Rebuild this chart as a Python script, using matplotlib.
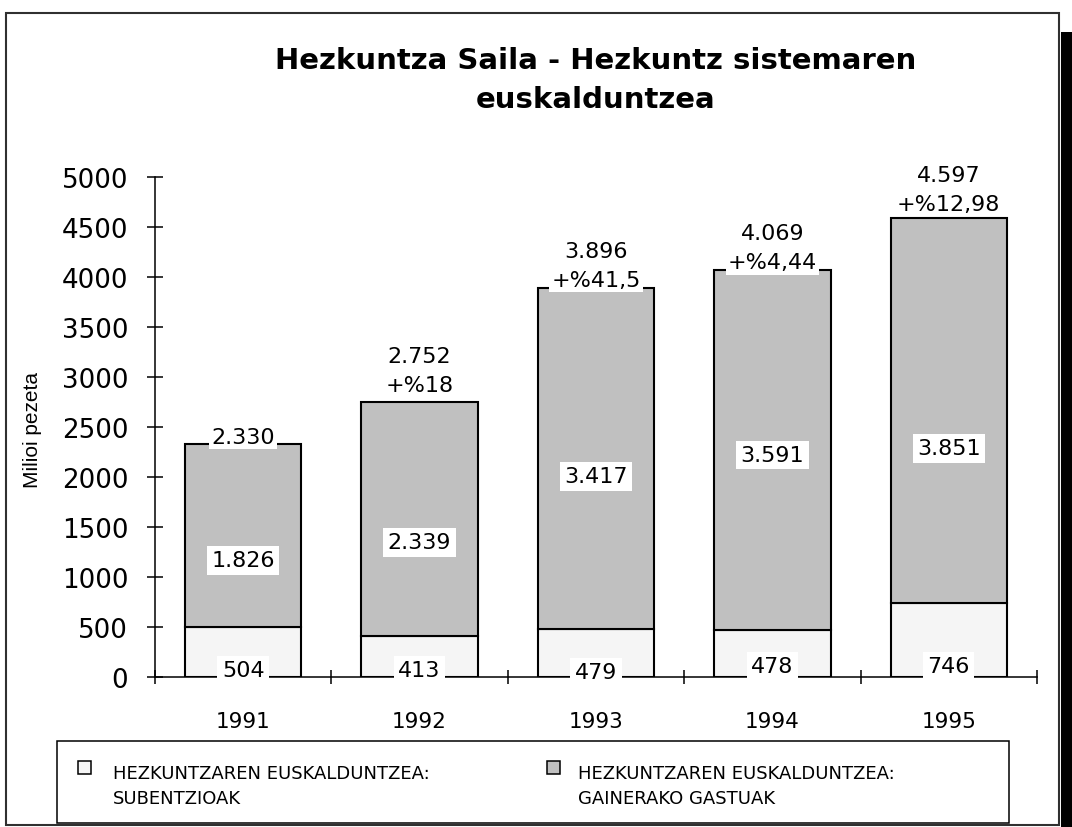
import numpy as np
import matplotlib
matplotlib.use('Agg')
import matplotlib.pyplot as plt
import matplotlib.transforms as mtransforms
from matplotlib.patches import Rectangle
from matplotlib.font_manager import FontProperties

# ---------------- data ----------------
years = ['1991', '1992', '1993', '1994', '1995']
subentzioak = [504, 413, 479, 478, 746]
gainerako = [1826, 2339, 3417, 3591, 3851]
hazkundea = ['', '+%18', '+%41,5', '+%4,44', '+%12,98']
yticks = [0, 500, 1000, 1500, 2000, 2500, 3000, 3500, 4000, 4500, 5000]
series_names = ['HEZKUNTZAREN EUSKALDUNTZEA:\nSUBENTZIOAK',
                'HEZKUNTZAREN EUSKALDUNTZEA:\nGAINERAKO GASTUAK']
title = 'Hezkuntza Saila - Hezkuntz sistemaren\neuskalduntzea'
ylabel = 'Milioi pezeta'

# ---------------- layout / style ----------------
W, H = 1072, 828
light = '#f5f5f5'
gray = '#c0c0c0'
mid_label_y = [1188, 1368, 2028, 2243, 2308]   # label positions (data units)
base_label_y = [13, 13, -7, 53, 53]
top_label_off = [1.5, 11, 1.5, 2, 8]           # pixels above bar top

def fmt(v):
    return f'{v:,}'.replace(',', '.')

fig = plt.figure(figsize=(W / 100, H / 100), dpi=100)
renderer = fig.canvas.get_renderer()

def fx(x):
    return x / W

def fy(y):
    return 1 - y / H

def asc(size, weight='normal', family='DejaVu Sans'):
    fp = FontProperties(family=family, size=size, weight=weight)
    _, h, d = renderer.get_text_width_height_descent('lp', fp, ismath=False)
    return h - d

# outer frame + shadow
fig.add_artist(Rectangle((fx(1061), 0), 1 - fx(1061), fy(33), transform=fig.transFigure,
                         facecolor='black', edgecolor='none', zorder=-2))
fig.add_artist(Rectangle((fx(6), fy(826)), (1059 - 6) / W, (826 - 14) / H,
                         transform=fig.transFigure, facecolor='white',
                         edgecolor='#303030', lw=1.5, zorder=-1))

# ---------------- axes ----------------
ax = fig.add_axes([fx(155), fy(678.3), (1037 - 155) / W, (678.3 - 178.3) / H])
ax.set_facecolor('none')
x = np.arange(len(years)) + 0.5
bw = 0.66
ax.bar(x, subentzioak, width=bw, color=light, edgecolor='black', linewidth=1.5,
       label=series_names[0], zorder=2)
ax.bar(x, gainerako, bottom=subentzioak, width=bw, color=gray, edgecolor='black',
       linewidth=1.5, label=series_names[1], zorder=2)
ax.set_xlim(0, len(years))
ax.set_ylim(0, 5000)

for s in ['top', 'right']:
    ax.spines[s].set_visible(False)
for s in ['left', 'bottom']:
    ax.spines[s].set_linewidth(1.1)
    ax.spines[s].set_zorder(2.5)

ax.set_yticks(yticks)
ax.set_yticklabels([str(t) for t in yticks])
ax.tick_params(axis='y', direction='inout', length=12, width=1.1, pad=13.3,
               labelsize=18.8)
ax.set_xticks(range(len(years) + 1))
ax.set_xticklabels([''] * (len(years) + 1))
ax.tick_params(axis='x', which='major', direction='inout', length=10, width=1.1)
ax.set_xticks(x, minor=True)
ax.set_xticklabels(years, minor=True)
ax.tick_params(axis='x', which='minor', length=0, pad=24, labelsize=15.5)

# ---------------- value labels ----------------
lab_size = 16
ls_lab = 25 / asc(lab_size)
for i in range(len(years)):
    # bottom segment
    ax.text(x[i], base_label_y[i], fmt(subentzioak[i]), ha='center', va='baseline',
            fontsize=lab_size, zorder=5,
            bbox=dict(boxstyle='square,pad=0.2', fc='white', ec='none'))
    # upper segment
    ax.text(x[i], mid_label_y[i], fmt(gainerako[i]), ha='center', va='center_baseline',
            fontsize=lab_size, zorder=5,
            bbox=dict(boxstyle='square,pad=0.2', fc='white', ec='none'))
    # total (+ growth); baseline of last line just above the bar
    total = subentzioak[i] + gainerako[i]
    txt = fmt(total) + ('\n' + hazkundea[i] if hazkundea[i] else '')
    tr = mtransforms.offset_copy(ax.transData, fig=fig, x=0,
                                 y=top_label_off[i], units='dots')
    ax.text(x[i], total, txt, ha='center', va='baseline', fontsize=lab_size,
            linespacing=ls_lab, multialignment='center', transform=tr, zorder=5,
            bbox=dict(boxstyle='square,pad=0.1', fc='white', ec='none'))

# ---------------- texts ----------------
# baseline of the last title line
fig.text(fx(596), fy(108), title, ha='center', va='baseline', fontsize=21,
         weight='bold', multialignment='center',
         linespacing=33 / asc(21, 'bold'))
fig.text(fx(32), fy(430), ylabel, rotation=90, ha='center', va='center',
         fontsize=15, family='Liberation Sans')

# ---------------- legend ----------------
fig.add_artist(Rectangle((fx(57), fy(824)), (1009 - 57) / W, (824 - 742) / H,
                         transform=fig.transFigure, facecolor='white',
                         edgecolor='black', lw=1.1, zorder=1))
leg_size = 13
ls_leg = 21 / asc(leg_size)
for (sx, tx), col, name in zip([(78, 113), (547, 578)], [light, gray], series_names):
    fig.add_artist(Rectangle((fx(sx), fy(775)), 13 / W, 13 / H,
                             transform=fig.transFigure, facecolor=col,
                             edgecolor='black', lw=1.1, zorder=2))
    fig.text(fx(tx), fy(804), name, ha='left', va='baseline', fontsize=leg_size,
             linespacing=ls_leg, multialignment='left', zorder=3)

fig.savefig('out.png', dpi=100)
